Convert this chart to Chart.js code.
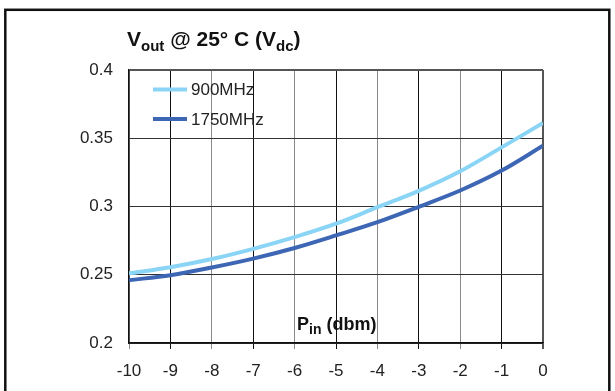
<!DOCTYPE html>
<html lang="en">
  <head>
    <meta charset="UTF-8" />
    <title>Vout vs Pin</title>
    <script src="https://cdn.jsdelivr.net/npm/chart.js"></script>
    <style>
      body { margin: 0; background: #fff; }
    </style>
  </head>
  <body>
    <canvas id="myChart" width="615" height="391"></canvas>
    <script>
      // values
      const xTicks = [-10, -9, -8, -7, -6, -5, -4, -3, -2, -1, 0];
      const yTicks = [0.2, 0.25, 0.3, 0.35, 0.4];
      const yTickLabels = ["0.2", "0.25", "0.3", "0.35", "0.4"];
      const pin = [-10, -9, -8, -7, -6, -5, -4, -3, -2, -1, 0];
      const v900 = [0.251, 0.2555, 0.2615, 0.269, 0.2776, 0.2874, 0.2995, 0.3115, 0.3258, 0.3433, 0.3612];
      const v1750 = [0.246, 0.2497, 0.2553, 0.2618, 0.2696, 0.2788, 0.2885, 0.2998, 0.3117, 0.3263, 0.3445];

      Chart.defaults.font.family = "'Liberation Sans', Arial, sans-serif";
      Chart.defaults.color = "#222";

      function drawParts(ctx, x, y, parts) {
        // parts: [text, size, dy]
        for (const p of parts) {
          ctx.font = "bold " + p[1] + "px 'Liberation Sans', Arial, sans-serif";
          ctx.fillText(p[0], x, y + p[2]);
          x += ctx.measureText(p[0]).width;
        }
      }

      const decor = {
        id: "decor",
        afterDraw(chart) {
          const ctx = chart.ctx;
          ctx.save();
          // outer frame
          ctx.strokeStyle = "#111";
          ctx.lineWidth = 2.5;
          ctx.strokeRect(5.3, 9.8, 604, 400);

          // titles
          ctx.fillStyle = "#111";
          ctx.textBaseline = "alphabetic";
          ctx.textAlign = "left";
          drawParts(ctx, 127, 46, [["V", 21, 0], ["out", 15, 5], [" @ 25\u00b0 C (V", 21, 0], ["dc", 15, 5], [")", 21, 0]]);
          drawParts(ctx, 297, 330, [["P", 18, 0], ["in", 14, 3.5], [" (dbm)", 18, 0]]);

          // legend inside the plot
          const items = chart.data.datasets;
          const ys = [89.5, 119];
          items.forEach((d, i) => {
            ctx.strokeStyle = d.borderColor;
            ctx.lineWidth = 4;
            ctx.beginPath();
            ctx.moveTo(153, ys[i]);
            ctx.lineTo(187, ys[i]);
            ctx.stroke();
            ctx.fillStyle = "#222";
            ctx.font = "17px 'Liberation Sans', Arial, sans-serif";
            ctx.textBaseline = "middle";
            ctx.fillText(d.label, 191, ys[i] + 1);
          });
          ctx.restore();
        },
      };

      const ctx = document.getElementById("myChart").getContext("2d");
      const myChart = new Chart(ctx, {
        type: "line",
        data: {
          labels: pin,
          datasets: [
            {
              label: "900MHz",
              data: pin.map((x, i) => ({ x: x, y: v900[i] })),
              borderColor: "#8ad4f6",
              borderWidth: 4,
              pointRadius: 0,
              cubicInterpolationMode: "monotone",
            },
            {
              label: "1750MHz",
              data: pin.map((x, i) => ({ x: x, y: v1750[i] })),
              borderColor: "#3d66b4",
              borderWidth: 4,
              pointRadius: 0,
              cubicInterpolationMode: "monotone",
            },
          ],
        },
        options: {
          responsive: false,
          animation: false,
          layout: { padding: { left: 0, top: 70, right: 72, bottom: 0 } },
          plugins: { legend: { display: false }, tooltip: { enabled: false } },
          scales: {
            x: {
              type: "linear",
              min: -10,
              max: 0,
              afterBuildTicks: (s) => { s.ticks = xTicks.map((v) => ({ value: v })); },
              afterFit: (s) => { s.height = 48; },
              ticks: { callback: (v, i) => String(xTicks[i]), font: { size: 17 }, padding: 12, maxRotation: 0 },
              grid: {
                tickLength: 6,
                lineWidth: (c) => (c.tick && c.tick.value === 0 ? 2 : 1),
                color: (c) => {
                  const v = c.tick ? c.tick.value : 0;
                  if (v === 0) return "#555";
                  return Math.abs(v) % 2 === 1 ? "#111" : "#8a8a8a";
                },
              },
              border: { color: "#111", width: 1.5 },
            },
            y: {
              min: 0.2,
              max: 0.4,
              afterBuildTicks: (s) => { s.ticks = yTicks.map((v) => ({ value: v })); },
              afterFit: (s) => { s.width = 129; },
              ticks: { callback: (v, i) => yTickLabels[i], font: { size: 17 }, padding: 16 },
              grid: {
                drawTicks: false,
                lineWidth: (c) => (c.tick && c.tick.value === 0.4 ? 2 : 1),
                color: (c) => (c.tick && c.tick.value === 0.4 ? "#555" : "#333"),
              },
              border: { color: "#111", width: 1.5 },
            },
          },
        },
        plugins: [decor],
      });
    </script>
  </body>
</html>
